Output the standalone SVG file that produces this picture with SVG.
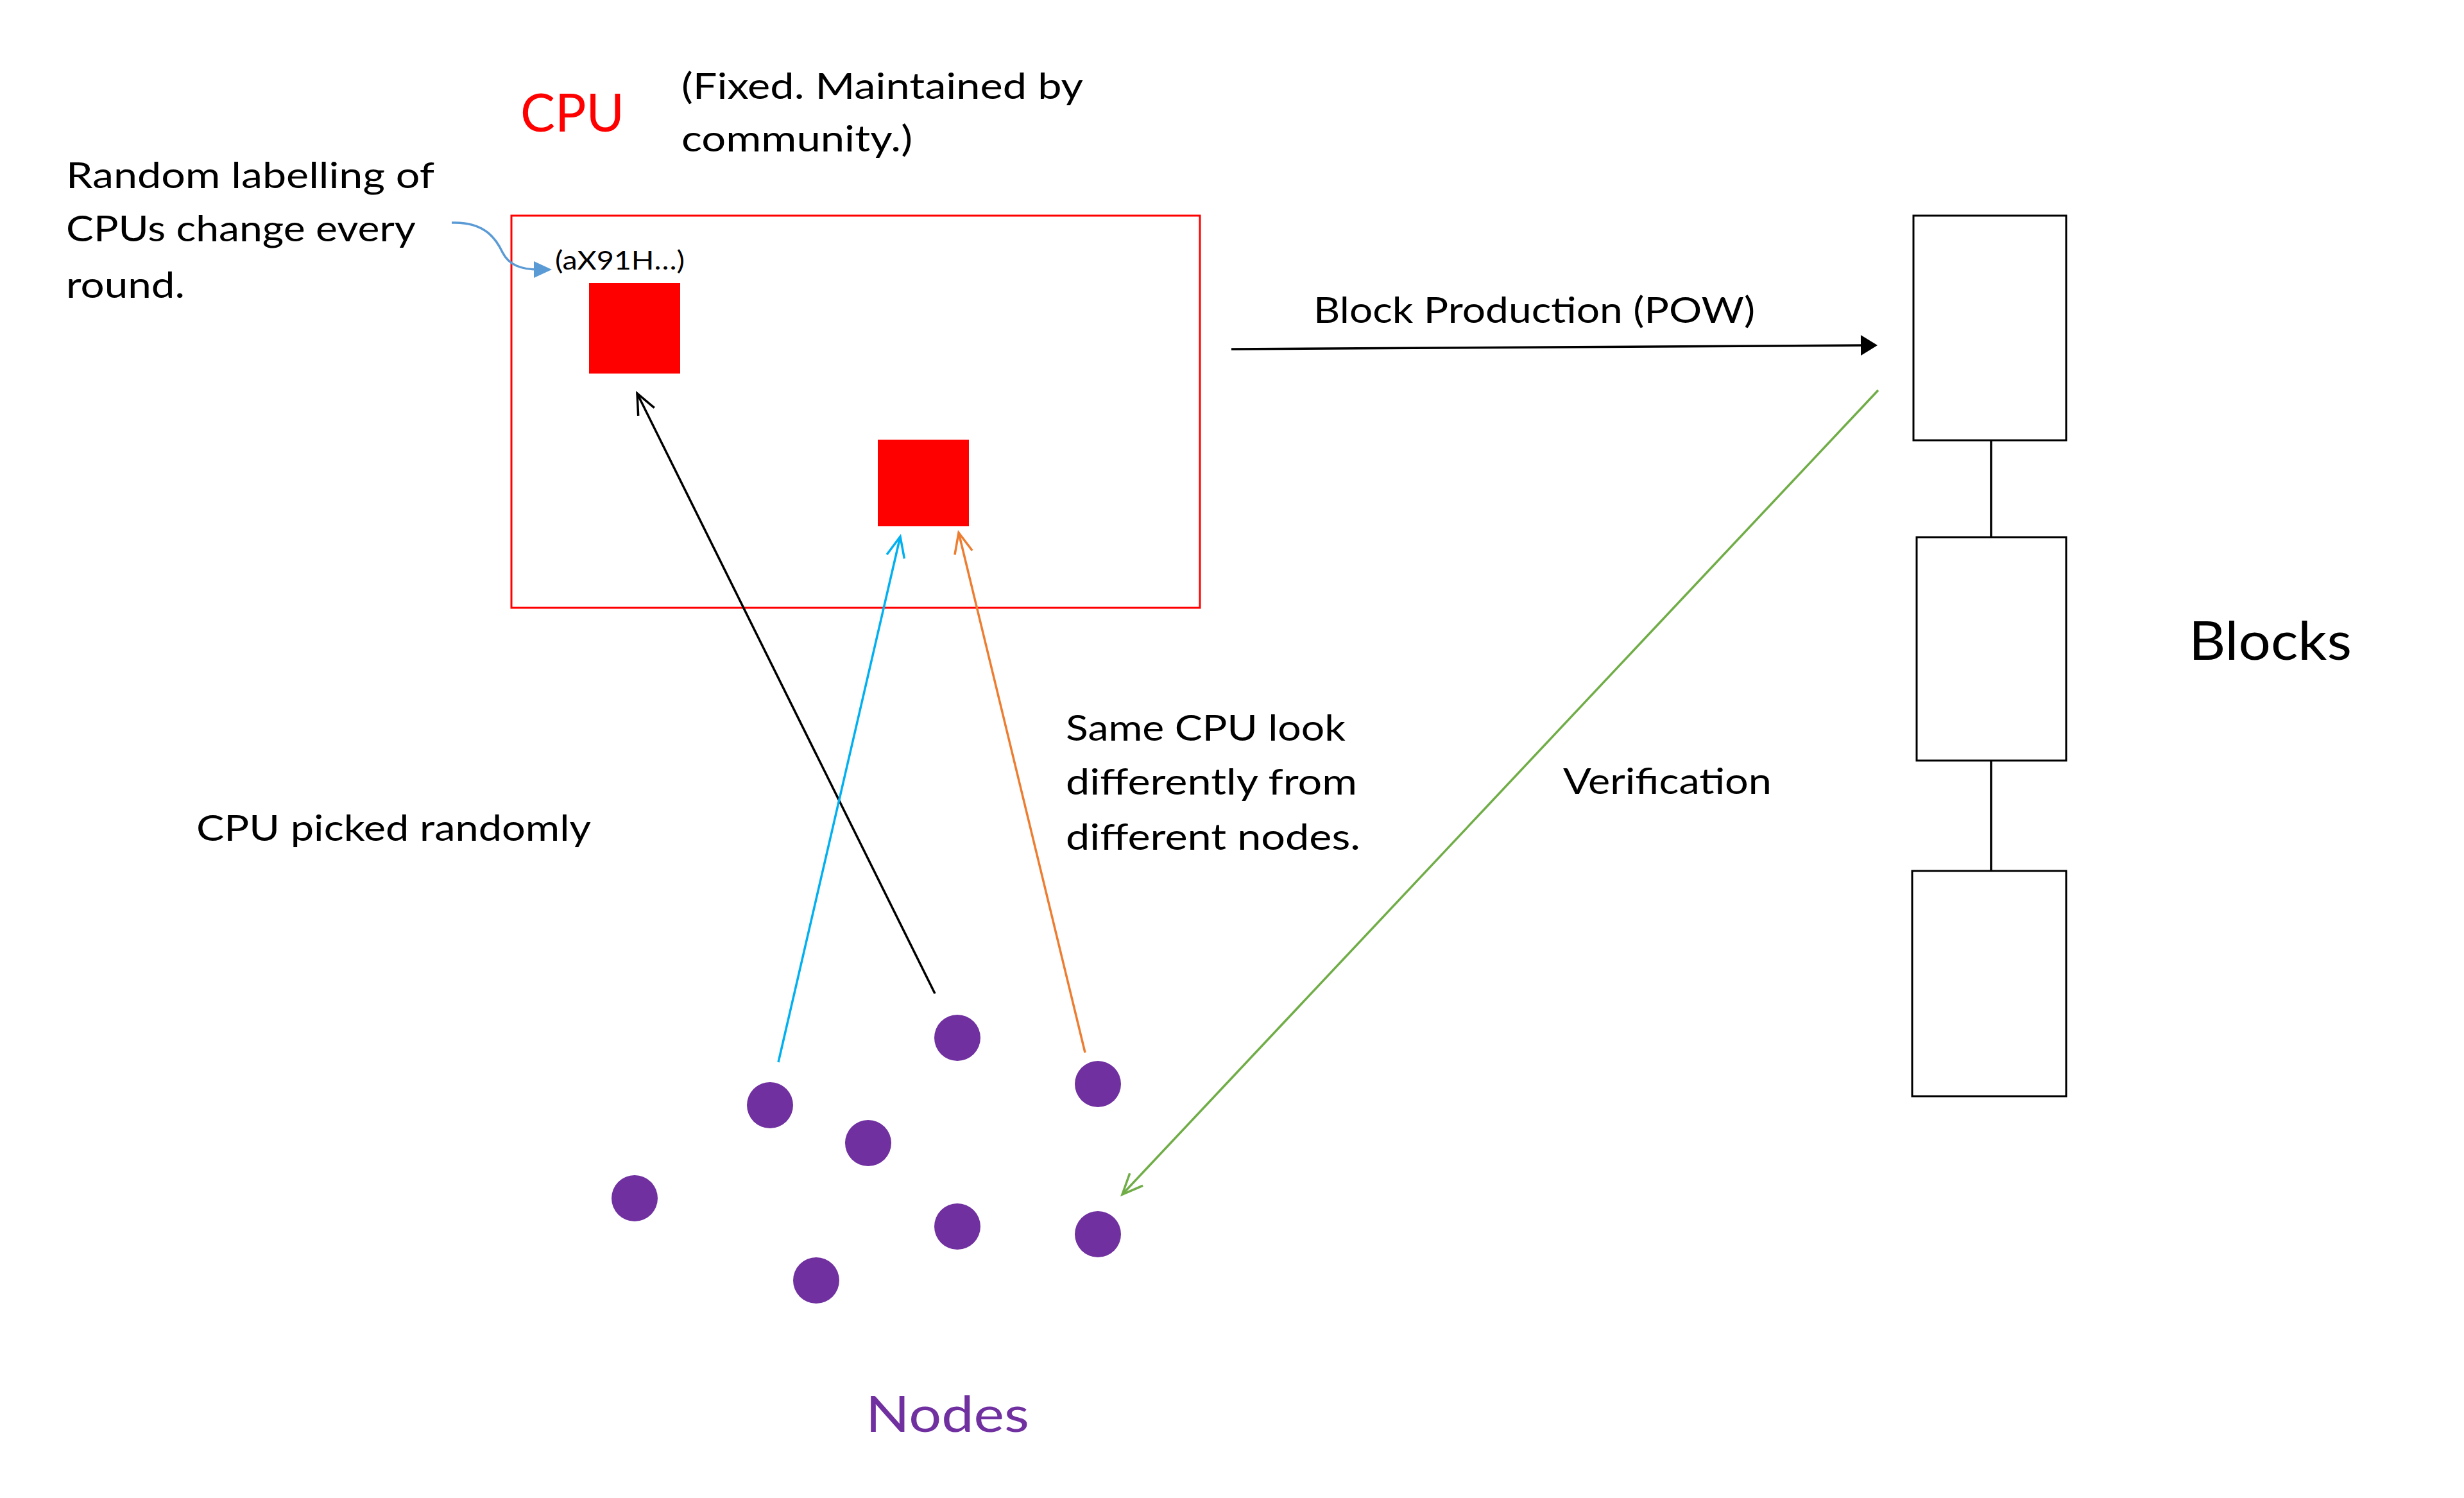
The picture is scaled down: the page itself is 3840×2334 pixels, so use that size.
<svg xmlns="http://www.w3.org/2000/svg" width="3840" height="2334" viewBox="0 0 3840 2334">
<style>
  text { font-family: Lato, "Open Sans", "Liberation Sans", sans-serif; fill: #000; }
  .body { font-size: 57px; }
  .block { fill: #fff; stroke: #000; stroke-width: 3; }
  .cpu { fill: #ff0000; }
  .node { fill: #7030a0; }
  .link { fill: none; stroke-width: 3.5; }
</style>
<defs>
  <marker id="openBlack" markerUnits="userSpaceOnUse" markerWidth="80" markerHeight="80" viewBox="-40 -40 80 80" refX="0" refY="0" orient="auto" overflow="visible">
    <path d="M-32,-14 L0,0 L-32,14" fill="none" stroke="#000" stroke-width="3.5"/>
  </marker>
  <marker id="openBlue" markerUnits="userSpaceOnUse" markerWidth="80" markerHeight="80" viewBox="-40 -40 80 80" refX="0" refY="0" orient="auto" overflow="visible">
    <path d="M-32,-14 L0,0 L-32,14" fill="none" stroke="#00b0f0" stroke-width="3.5"/>
  </marker>
  <marker id="openOrange" markerUnits="userSpaceOnUse" markerWidth="80" markerHeight="80" viewBox="-40 -40 80 80" refX="0" refY="0" orient="auto" overflow="visible">
    <path d="M-32,-14 L0,0 L-32,14" fill="none" stroke="#ed7d31" stroke-width="3.5"/>
  </marker>
  <marker id="openGreen" markerUnits="userSpaceOnUse" markerWidth="80" markerHeight="80" viewBox="-40 -40 80 80" refX="0" refY="0" orient="auto" overflow="visible">
    <path d="M-32,-14 L0,0 L-32,14" fill="none" stroke="#70ad47" stroke-width="3.5"/>
  </marker>
  <marker id="solidBlack" markerUnits="userSpaceOnUse" markerWidth="80" markerHeight="80" viewBox="-40 -40 80 80" refX="0" refY="0" orient="auto" overflow="visible">
    <path d="M-6,-16 L20,0 L-6,16 Z" fill="#000"/>
  </marker>
  <marker id="solidSteel" markerUnits="userSpaceOnUse" markerWidth="80" markerHeight="80" viewBox="-40 -40 80 80" refX="0" refY="0" orient="auto" overflow="visible">
    <path d="M-8,-13 L20,0 L-8,13 Z" fill="#5b9bd5"/>
  </marker>
</defs>

<rect width="3840" height="2334" fill="#fff"/>

<!-- CPU area -->
<g id="cpu-pool">
  <rect x="797" y="336" width="1073" height="611" fill="none" stroke="#ff0000" stroke-width="3"/>
  <text x="811" y="205" font-size="81" style="fill:#ff0000" textLength="162" lengthAdjust="spacingAndGlyphs">CPU</text>
  <text class="body" x="1062" y="154" textLength="626" lengthAdjust="spacingAndGlyphs">(Fixed. Maintained by</text>
  <text class="body" x="1062" y="236" textLength="360" lengthAdjust="spacingAndGlyphs">community.)</text>
</g>
<g id="cpu-1">
  <rect class="cpu" x="918" y="441" width="142" height="141"/>
  <text x="865" y="420" font-size="41" textLength="202" lengthAdjust="spacingAndGlyphs">(aX91H…)</text>
</g>
<g id="cpu-2">
  <rect class="cpu" x="1368" y="685" width="142" height="135"/>
</g>

<g id="label-random">
  <text class="body" x="103" y="293" textLength="574" lengthAdjust="spacingAndGlyphs">Random labelling of</text>
  <text class="body" x="103" y="376" textLength="545" lengthAdjust="spacingAndGlyphs">CPUs change every</text>
  <text class="body" x="103" y="464" textLength="185" lengthAdjust="spacingAndGlyphs">round.</text>
</g>

<g id="label-picked">
  <text class="body" x="306" y="1310" textLength="615" lengthAdjust="spacingAndGlyphs">CPU picked randomly</text>
</g>

<g id="label-same">
  <text class="body" x="1661" y="1154" textLength="436" lengthAdjust="spacingAndGlyphs">Same CPU look</text>
  <text class="body" x="1661" y="1238" textLength="454" lengthAdjust="spacingAndGlyphs">differently from</text>
  <text class="body" x="1661" y="1324" textLength="459" lengthAdjust="spacingAndGlyphs">different nodes.</text>
</g>

<!-- Blocks -->
<g id="block-1"><rect class="block" x="2982" y="336" width="238" height="350"/></g>
<g id="block-2"><rect class="block" x="2987" y="837" width="233" height="348"/></g>
<g id="block-3"><rect class="block" x="2980" y="1357" width="240" height="351"/></g>
<g id="label-blocks">
  <text x="3411" y="1028" font-size="84" textLength="254" lengthAdjust="spacingAndGlyphs">Blocks</text>
</g>

<!-- Nodes -->
<g id="node-1"><circle class="node" cx="1492" cy="1617" r="36"/></g>
<g id="node-2"><circle class="node" cx="1711" cy="1689" r="36"/></g>
<g id="node-3"><circle class="node" cx="1200" cy="1722" r="36"/></g>
<g id="node-4"><circle class="node" cx="1353" cy="1781" r="36"/></g>
<g id="node-5"><circle class="node" cx="989" cy="1867" r="36"/></g>
<g id="node-6"><circle class="node" cx="1492" cy="1911" r="36"/></g>
<g id="node-7"><circle class="node" cx="1711" cy="1923" r="36"/></g>
<g id="node-8"><circle class="node" cx="1272" cy="1995" r="36"/></g>
<g id="label-nodes">
  <text x="1349" y="2231" font-size="78" style="fill:#7030a0" textLength="255" lengthAdjust="spacingAndGlyphs">Nodes</text>
</g>

<!-- Connectors -->
<g id="connectors">
  <line class="link" x1="3103" y1="686" x2="3103" y2="837" stroke="#000" stroke-width="3"/>
  <line class="link" x1="3103" y1="1185" x2="3103" y2="1357" stroke="#000" stroke-width="3"/>
  <path class="link" d="M704,347 C755,345 773,372 783,393 C793,413 812,420 840,420" stroke="#5b9bd5" marker-end="url(#solidSteel)"/>
  <line class="link" x1="1919" y1="544" x2="2906" y2="538" stroke="#000" stroke-width="7" marker-end="url(#solidBlack)"/>
  <line class="link" x1="1457" y1="1548" x2="993" y2="613" stroke="#000" marker-end="url(#openBlack)"/>
  <line class="link" x1="1213" y1="1655" x2="1403" y2="836" stroke="#00b0f0" marker-end="url(#openBlue)"/>
  <line class="link" x1="1691" y1="1640" x2="1494" y2="830" stroke="#ed7d31" marker-end="url(#openOrange)"/>
  <line class="link" x1="2927" y1="608" x2="1749" y2="1861" stroke="#70ad47" marker-end="url(#openGreen)"/>
  <text class="body" x="2047" y="503" textLength="688" lengthAdjust="spacingAndGlyphs">Block Production (POW)</text>
  <text class="body" x="2436" y="1237" textLength="325" lengthAdjust="spacingAndGlyphs">Verification</text>
</g>
</svg>
